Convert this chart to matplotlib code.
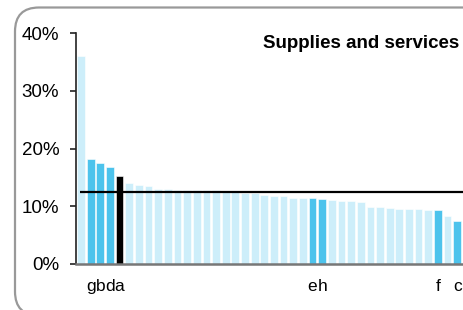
import matplotlib
matplotlib.use("Agg")
import matplotlib.pyplot as plt
from matplotlib.patches import FancyBboxPatch
from matplotlib.ticker import PercentFormatter

# share of spend on supplies and services, sorted
values = [36.0, 18.1, 17.5, 16.8, 15.3, 14.1, 13.7, 13.5, 13.0, 13.0,
          12.8, 12.8, 12.8, 12.8, 12.75, 12.4, 12.4, 12.3, 12.3, 12.0,
          11.85, 11.8, 11.5, 11.4, 11.4, 11.25, 11.0, 10.85, 10.85, 10.7,
          9.9, 9.9, 9.65, 9.5, 9.5, 9.5, 9.35, 9.3, 8.25, 7.4]
labels = ["", "g", "b", "d", "a"] + [""] * 19 + ["e", "h"] + [""] * 11 + ["f", "", "c"]
kind = ["other", "peer", "peer", "peer", "self"] + ["other"] * 19 + ["peer", "peer"] \
    + ["other"] * 11 + ["peer", "other", "peer"]
average = 12.5
title = "Supplies and services"

colours = {"other": "#cdeefa", "peer": "#4dc3ec", "self": "#000000"}

fig = plt.figure(figsize=(4.63, 3.10), dpi=100)
plt.rcParams['font.family'] = ['Liberation Sans', 'DejaVu Sans']

# rounded frame behind everything, in pixel units
bg = fig.add_axes([0, 0, 1, 1], zorder=0)
bg.set_xlim(0, 463)
bg.set_ylim(310, 0)
bg.axis("off")
bg.add_patch(FancyBboxPatch((15, 7.5), 500, 308, boxstyle="round,pad=0,rounding_size=24",
                            fc="white", ec="#999999", lw=1.6))

ax = fig.add_axes([76 / 463, 1 - 264 / 310, 1 - 76 / 463, (264 - 33) / 310], zorder=1)
ax.patch.set_alpha(0)
x = list(range(len(values)))
ax.bar(x, values, width=0.8, color=[colours[k] for k in kind],
       edgecolor="white", linewidth=0.4, zorder=2)
ax.hlines(average, -0.1, len(values) + 5, color="black", lw=1.6, zorder=3)

ax.set_xlim(-0.52, 39.6)
ax.set_ylim(0, 40)
ax.yaxis.set_major_formatter(PercentFormatter(decimals=0))
ax.set_yticks([0, 10, 20, 30, 40])
ax.set_xticks(x)
ax.set_xticklabels(labels)
ax.tick_params(axis="x", length=0, pad=11, labelsize=12.5)
ax.tick_params(axis="y", length=4, width=1.2, pad=8, labelsize=13.5, color="#222222")

for side in ["top", "right"]:
    ax.spines[side].set_visible(False)
ax.spines["left"].set_color("#222222")
ax.spines["left"].set_linewidth(1.2)
ax.spines["bottom"].set_color("#777777")
ax.spines["bottom"].set_linewidth(1.8)

fig.text(459 / 463, 1 - 44 / 310, title, ha="right", va="center",
         fontsize=13.5, fontweight="bold")

fig.savefig("out.png", dpi=100)
